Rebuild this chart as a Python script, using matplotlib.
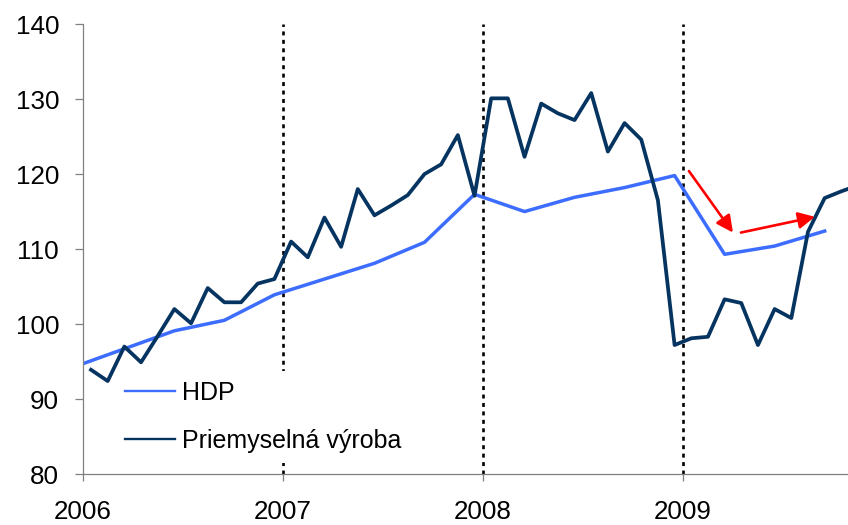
import numpy as np
import matplotlib
matplotlib.use("Agg")
import matplotlib.pyplot as plt

plt.rcParams['font.family'] = ['Liberation Sans', 'DejaVu Sans']

# Priemyselna vyroba, monthly Jan 2006 - Nov 2009
ip_2006 = [93.9, 92.4, 97.0, 94.9, 98.4, 102.0, 100.1, 104.8, 102.9, 102.9, 105.4, 106.0]
ip_2007 = [111.0, 108.9, 114.2, 110.3, 118.0, 114.5, 115.8, 117.2, 120.0, 121.3, 125.2, 117.1]
ip_2008 = [130.1, 130.1, 122.3, 129.4, 128.1, 127.2, 130.8, 123.0, 126.8, 124.6, 116.5, 97.2]
ip_2009 = [98.1, 98.3, 103.3, 102.8, 97.2, 102.0, 100.8, 112.3, 116.8, 117.7, 118.5]
ip_vals = ip_2006 + ip_2007 + ip_2008 + ip_2009

# HDP, quarterly, Q4 2005 - Q3 2009 (plotted at last month of quarter)
hdp_vals = [94.3, 96.7, 99.1, 100.5, 103.9, 106.0, 108.1, 110.9, 117.3,
            115.0, 116.9, 118.2, 119.8, 109.3, 110.4, 112.4]

years = [2006, 2007, 2008, 2009]
year_labels = ['2006', '2007', '2008', '2009']
y_ticks = [80, 90, 100, 110, 120, 130, 140]

# red arrows (start x, start y, end x, end y)
arrow_fall = (2009.03, 120.4, 2009.25, 112.2)
arrow_rise = (2009.29, 112.2, 2009.66, 114.3)

# month positions (middle of month)
ip_x = 2006 + (np.arange(len(ip_vals)) + 0.5) / 12
hdp_x = 2005 + (11 + 3 * np.arange(len(hdp_vals)) + 0.5) / 12

fig = plt.figure(figsize=(8.48, 5.25), dpi=100)
ax = fig.add_axes([0.0975, 0.0971, 0.9025, 0.857])

ax.plot(hdp_x, hdp_vals, color='#3D6DFF', lw=2.5, label='HDP')
ax.plot(ip_x, ip_vals, color='#063461', lw=2.7, label='Priemyselná výroba')

# dotted year separators
for yr in years[1:]:
    ax.axvline(yr, color='black', lw=1.9, linestyle=(0, (1.5, 1.7)), zorder=1)

for a in (arrow_fall, arrow_rise):
    ax.annotate('', xy=(a[2], a[3]), xytext=(a[0], a[1]),
                arrowprops=dict(arrowstyle='-|>,head_length=0.5,head_width=0.25',
                                color='#FF0000', lw=1.9, mutation_scale=20,
                                shrinkA=0, shrinkB=0))

ax.set_xlim(2006, 2009.825)
ax.set_ylim(80, 140)
ax.set_yticks(y_ticks)
ax.set_xticks(years)
ax.set_xticklabels(year_labels)

for s in ['top', 'right']:
    ax.spines[s].set_visible(False)
for s in ['left', 'bottom']:
    ax.spines[s].set_color('#808080')
    ax.spines[s].set_linewidth(0.9)
ax.tick_params(axis='y', direction='out', length=6, width=0.9, color='#808080',
               labelsize=18.7, pad=11)
ax.tick_params(axis='x', direction='out', length=5, width=0.9, color='#808080',
               labelsize=18.7, pad=14)

leg = ax.legend(loc='upper left', bbox_to_anchor=(115 / 848, 154 / 525),
                bbox_transform=fig.transFigure, frameon=True, fontsize=18,
                handlelength=2.0, handletextpad=0.27, labelspacing=0.95,
                borderpad=0.4, borderaxespad=0, fancybox=False)
leg.get_frame().set_facecolor('white')
leg.get_frame().set_edgecolor('none')
leg.get_frame().set_alpha(1)
for ln in leg.get_lines():
    ln.set_linewidth(1.7)

fig.savefig('out.png', dpi=100)
